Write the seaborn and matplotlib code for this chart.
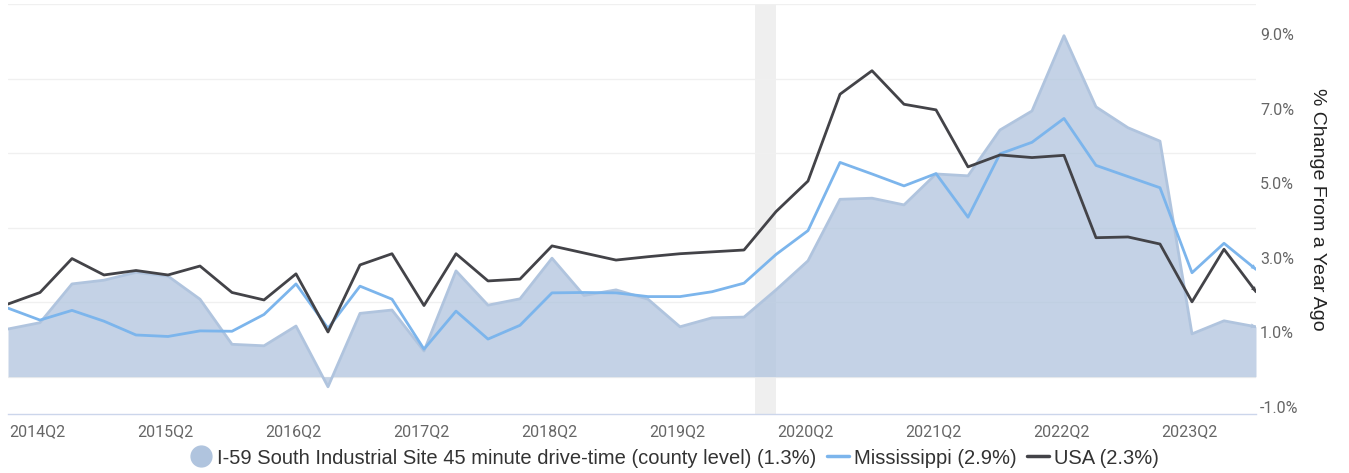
import numpy as np
import pandas as pd
import matplotlib.pyplot as plt
import matplotlib.transforms as mtrans
from matplotlib.lines import Line2D
import seaborn as sns

# Quarterly % change from a year ago, 2014Q2 .. 2024Q1
quarters = pd.period_range("2014Q2", "2024Q1", freq="Q")

site = [1.28, 1.45, 2.49, 2.59, 2.80, 2.70, 2.08, 0.87, 0.83, 1.36,
        -0.27, 1.70, 1.79, 0.69, 2.84, 1.92, 2.09, 3.18, 2.18, 2.33,
        2.08, 1.34, 1.58, 1.60, 2.33, 3.11, 4.76, 4.79, 4.61, 5.44,
        5.39, 6.62, 7.13, 9.15, 7.24, 6.68, 6.32, 1.15, 1.50, 1.34]

mississippi = [1.84, 1.52, 1.78, 1.49, 1.12, 1.08, 1.23, 1.22, 1.67, 2.49,
               1.30, 2.43, 2.08, 0.74, 1.76, 1.01, 1.38, 2.25, 2.26, 2.25,
               2.15, 2.15, 2.28, 2.51, 3.28, 3.92, 5.75, 5.44, 5.12, 5.45,
               4.28, 5.98, 6.29, 6.93, 5.67, 5.37, 5.07, 2.79, 3.58, 2.88]

usa = [1.95, 2.26, 3.17, 2.73, 2.85, 2.73, 2.97, 2.26, 2.06, 2.76,
       1.20, 3.00, 3.30, 1.91, 3.30, 2.57, 2.62, 3.51, 3.32, 3.13,
       3.22, 3.30, 3.35, 3.40, 4.43, 5.25, 7.58, 8.21, 7.31, 7.16,
       5.63, 5.95, 5.88, 5.94, 3.73, 3.75, 3.56, 2.01, 3.42, 2.28]

series_names = ["I-59 South Industrial Site 45 minute drive-time (county level) (1.3%)",
                "Mississippi (2.9%)", "USA (2.3%)"]

# recession: Feb 2020 - Apr 2020
recession = ("2020-02", "2020-04")

y_ticks = [-1, 1, 3, 5, 7, 9]

x = np.arange(len(quarters))
df = pd.DataFrame({"x": x, "site": site, "ms": mississippi, "usa": usa})


def month_to_x(s):
    t = pd.Timestamp(s)
    return (t.year - 2014) * 4 + (t.month - 1) / 3 - 1


sns.set_style("white")
plt.rcParams["font.family"] = ["Roboto", "DejaVu Sans"]

fig = plt.figure(figsize=(13.49, 4.73), dpi=100)
ax = fig.add_axes([8 / 1349, 1 - 414 / 473, 1248 / 1349, 410 / 473])

area_col = "#b0c4de"
ms_col = "#7cb5ec"
usa_col = "#434348"

ax.axvspan(month_to_x(recession[0]), month_to_x(recession[1]), color="#efefef", lw=0, zorder=0)
ax.fill_between(df["x"], 0, df["site"], color=area_col, alpha=0.75, lw=0, zorder=2)
ax.plot(df["x"], df["site"], color=area_col, lw=2, zorder=2)
sns.lineplot(data=df, x="x", y="ms", color=ms_col, lw=2, ax=ax, zorder=3)
sns.lineplot(data=df, x="x", y="usa", color=usa_col, lw=2, ax=ax, zorder=4)

# small arrow heads at the end of each series
for col, c, z in [("site", area_col, 2), ("ms", ms_col, 3), ("usa", usa_col, 4)]:
    x1, y1 = df["x"].iloc[-1], df[col].iloc[-1]
    x0, y0 = df["x"].iloc[-2], df[col].iloc[-2]
    ax.annotate("", xy=(x1, y1), xytext=(x1 - (x1 - x0) * 0.1, y1 - (y1 - y0) * 0.1),
                arrowprops=dict(arrowstyle="-|>", color=c, lw=0, mutation_scale=9,
                                shrinkA=0, shrinkB=0), zorder=z)

ax.set_xlim(0, len(quarters) - 1)
ax.set_ylim(-1, 10)

# grid every 1%
ax.set_yticks(np.arange(-1, 11), minor=True)
ax.grid(True, which="minor", axis="y", color="#f0f0f0", lw=1, zorder=0)
ax.yaxis.tick_right()
ax.set_yticks(y_ticks)
ax.set_yticklabels([f"{v:.1f}%" for v in y_ticks])
ax.tick_params(axis="y", which="both", length=0, pad=3, labelsize=11.5, labelcolor="#666666")
for lab in ax.get_yticklabels():
    lab.set_transform(lab.get_transform() + mtrans.ScaledTranslation(0, 7 / 100, fig.dpi_scale_trans))

xt = [i for i, q in enumerate(quarters) if q.quarter == 2]
ax.set_xticks(xt)
ax.set_xticklabels([str(quarters[i]) for i in xt], ha="left")
ax.tick_params(axis="x", length=5, width=1, color="#ccd6eb", pad=2, labelsize=11.5, labelcolor="#666666")
for lab in ax.get_xticklabels():
    lab.set_transform(lab.get_transform() + mtrans.ScaledTranslation(1 / 100, 0, fig.dpi_scale_trans))

ax.set_xlabel("")
ax.yaxis.set_label_position("right")
ax.set_ylabel("% Change From a Year Ago", rotation=270, fontsize=14, color="#222222",
              labelpad=20, family=["Liberation Sans", "DejaVu Sans"])

for s in ["top", "left", "right"]:
    ax.spines[s].set_visible(False)
ax.spines["bottom"].set_color("#ccd6eb")
ax.spines["bottom"].set_linewidth(1)

handles = [
    Line2D([], [], marker="o", ls="", markersize=15, color=area_col),
    Line2D([], [], color=ms_col, lw=2.5),
    Line2D([], [], color=usa_col, lw=2.5),
]
fig.legend(handles, series_names, loc="center", bbox_to_anchor=(0.5, 1 - 458 / 473), ncol=3,
           frameon=False, handlelength=1.1, handletextpad=0.25, columnspacing=0.5,
           labelcolor="#333333", prop={"family": ["Liberation Sans", "DejaVu Sans"], "size": 14.5})

fig.savefig("out.png", dpi=100, facecolor="white")
